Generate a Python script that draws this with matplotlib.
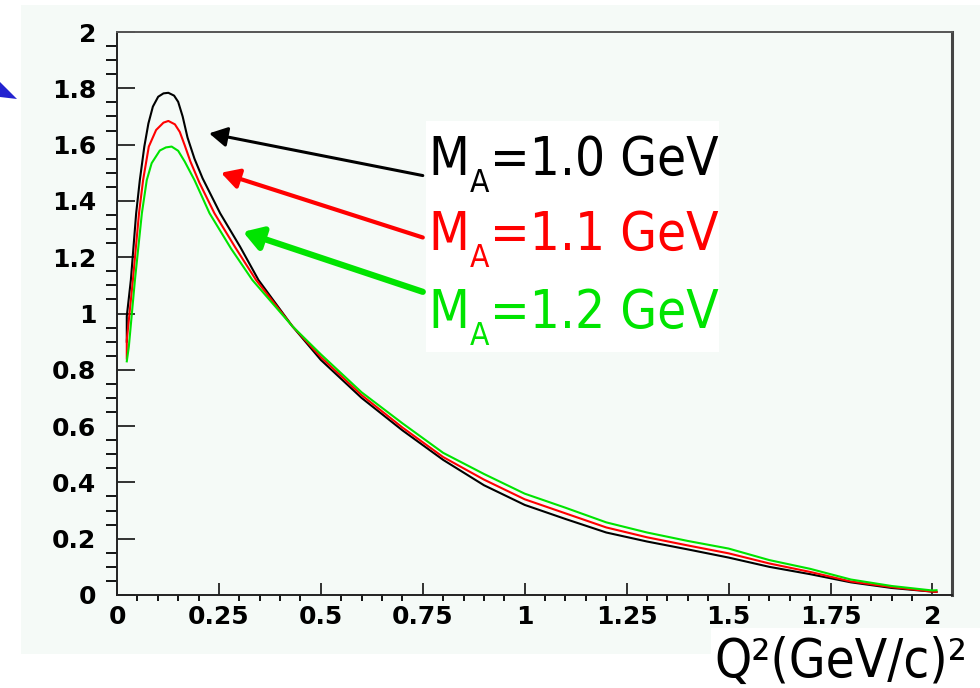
import matplotlib
matplotlib.use('Agg')
import matplotlib.pyplot as plt
from matplotlib.patches import Rectangle, Polygon
from matplotlib.ticker import MultipleLocator, FormatStrFormatter

# curve data (Q^2 in (GeV/c)^2)
bx=[0.024,0.024,0.034,0.047,0.056,0.067,0.077,0.088,0.101,0.114,0.126,0.140,0.150,0.161,0.173,0.19,0.210,0.253,0.302,0.347,0.43,0.5,0.6,0.7,0.8,0.9,1.0,1.1,1.2,1.3,1.4,1.5,1.6,1.7,1.8,1.9,2.0,2.01]
by=[0.90,0.99,1.119,1.356,1.474,1.593,1.675,1.735,1.770,1.782,1.784,1.774,1.752,1.70,1.625,1.55,1.48,1.356,1.237,1.119,0.955,0.835,0.70,0.585,0.48,0.39,0.32,0.27,0.222,0.19,0.162,0.133,0.10,0.074,0.045,0.025,0.012,0.011]
rx=[0.024,0.024,0.039,0.054,0.064,0.078,0.096,0.114,0.126,0.142,0.154,0.166,0.18,0.202,0.239,0.29,0.341,0.43,0.5,0.6,0.7,0.8,0.9,1.0,1.1,1.2,1.3,1.4,1.5,1.6,1.7,1.8,1.9,2.0,2.01]
ry=[0.84,0.905,1.119,1.356,1.474,1.593,1.652,1.678,1.684,1.672,1.645,1.598,1.54,1.465,1.356,1.235,1.119,0.955,0.845,0.71,0.595,0.49,0.41,0.34,0.29,0.24,0.205,0.176,0.148,0.112,0.082,0.048,0.028,0.012,0.011]
gx=[0.024,0.029,0.044,0.061,0.073,0.085,0.105,0.120,0.134,0.150,0.166,0.19,0.227,0.28,0.332,0.43,0.5,0.6,0.7,0.8,0.9,1.0,1.1,1.2,1.3,1.4,1.5,1.6,1.7,1.8,1.9,2.0,2.01]
gy=[0.83,0.882,1.119,1.356,1.474,1.534,1.579,1.590,1.593,1.578,1.540,1.474,1.356,1.23,1.119,0.955,0.855,0.72,0.61,0.505,0.43,0.36,0.31,0.258,0.222,0.192,0.165,0.124,0.093,0.055,0.032,0.016,0.017]

labels=['1.0','1.1','1.2']
colors=['black','#ff0000','#00e400']
xticks=[0,0.25,0.5,0.75,1,1.25,1.5,1.75,2]
yticks=[0,0.2,0.4,0.6,0.8,1,1.2,1.4,1.6,1.8,2]

W,H=980,688
fig=plt.figure(figsize=(9.8,6.88),dpi=100)
bg='#f5faf7'
# light panel behind the plot
fig.patches.append(Rectangle((21/W,(H-654)/H),1-21/W,(654-5)/H,transform=fig.transFigure,
                             facecolor=bg,edgecolor='none',zorder=-5))
# blue arrow tip cut at left edge
fig.patches.append(Polygon([(0,(H-82)/H),(17/W,(H-99)/H),(0,(H-97)/H)],closed=True,
                           transform=fig.transFigure,facecolor='#2323d0',edgecolor='none',zorder=-4))

ax=fig.add_axes([117/W,(H-595)/H,(952-117)/W,(595-32)/H])
ax.set_facecolor(bg)
ax.plot(bx,by,color=colors[0],lw=1.5)
ax.plot(rx,ry,color=colors[1],lw=1.5)
ax.plot(gx,gy,color=colors[2],lw=1.5)
ax.set_xlim(0,2.048)
ax.set_ylim(0,2)
ax.set_xticks(xticks)
ax.set_yticks(yticks)
ax.xaxis.set_major_formatter(FormatStrFormatter('%g'))
ax.yaxis.set_major_formatter(FormatStrFormatter('%g'))
ax.xaxis.set_minor_locator(MultipleLocator(0.05))
ax.yaxis.set_minor_locator(MultipleLocator(0.05))
ax.tick_params(axis='both',direction='in',top=False,right=False,width=1.3,colors='#222222',labelcolor='black')
ax.tick_params(axis='y',which='major',length=13,pad=15)
ax.tick_params(axis='y',which='minor',length=8,width=1.3)
ax.tick_params(axis='x',which='major',length=8.5,pad=7)
ax.tick_params(axis='x',which='minor',length=4,width=1.3)
for lab in ax.get_xticklabels()+ax.get_yticklabels():
    lab.set_fontweight('bold')
    lab.set_fontsize(18)
ax.spines['left'].set_color('#222222')
ax.spines['bottom'].set_color('#222222')
ax.spines['top'].set_color('#555555')
ax.spines['right'].set_color('#444444')
for s in ['left','bottom','top']:
    ax.spines[s].set_linewidth(1.4)
ax.spines['right'].set_linewidth(2.2)

# arrows pointing from the labels to the curves
ax.annotate('',xy=(0.226,1.64),xytext=(0.75,1.49),
            arrowprops=dict(arrowstyle='-|>,head_length=0.9,head_width=0.5',color=colors[0],lw=2.2,
                            mutation_scale=12,shrinkA=0,shrinkB=0))
ax.annotate('',xy=(0.255,1.50),xytext=(0.75,1.27),
            arrowprops=dict(arrowstyle='-|>,head_length=0.9,head_width=0.5',color=colors[1],lw=3,
                            mutation_scale=12,shrinkA=0,shrinkB=0))
ax.annotate('',xy=(0.309,1.29),xytext=(0.75,1.077),
            arrowprops=dict(arrowstyle='-|>,head_length=0.8,head_width=0.5',color=colors[2],lw=4.5,
                            mutation_scale=14,shrinkA=0,shrinkB=0))

# white label box
fig.patches.append(Rectangle((426/W,(H-352)/H),(719-426)/W,(352-121)/H,transform=fig.transFigure,
                             facecolor='white',edgecolor='none',zorder=5))
renderer=fig.canvas.get_renderer()
base=[175,250,328]
fs=38
for i in range(3):
    y0=(H-base[i])/H
    t1=fig.text(428/W,y0,'M',color=colors[i],fontsize=fs,fontstretch='condensed',
                ha='left',va='baseline',zorder=6)
    x1=t1.get_window_extent(renderer).x1
    t2=fig.text(x1/W+1/W,y0-17/H,'A',color=colors[i],fontsize=fs*0.6,fontstretch='condensed',
                ha='left',va='baseline',zorder=6)
    x2=t2.get_window_extent(renderer).x1
    fig.text(x2/W+1/W,y0,'='+labels[i]+' GeV',color=colors[i],fontsize=fs,fontstretch='condensed',
             ha='left',va='baseline',zorder=6)

# x title in its own white box
fig.patches.append(Rectangle((711/W,0),1-711/W,(H-628)/H,transform=fig.transFigure,
                             facecolor='white',edgecolor='none',zorder=5))
fig.text(714/W,(H-677)/H,'Q²(GeV/c)²',fontsize=38,fontstretch='condensed',
         ha='left',va='baseline',zorder=6)

plt.savefig('out.png',dpi=100)
